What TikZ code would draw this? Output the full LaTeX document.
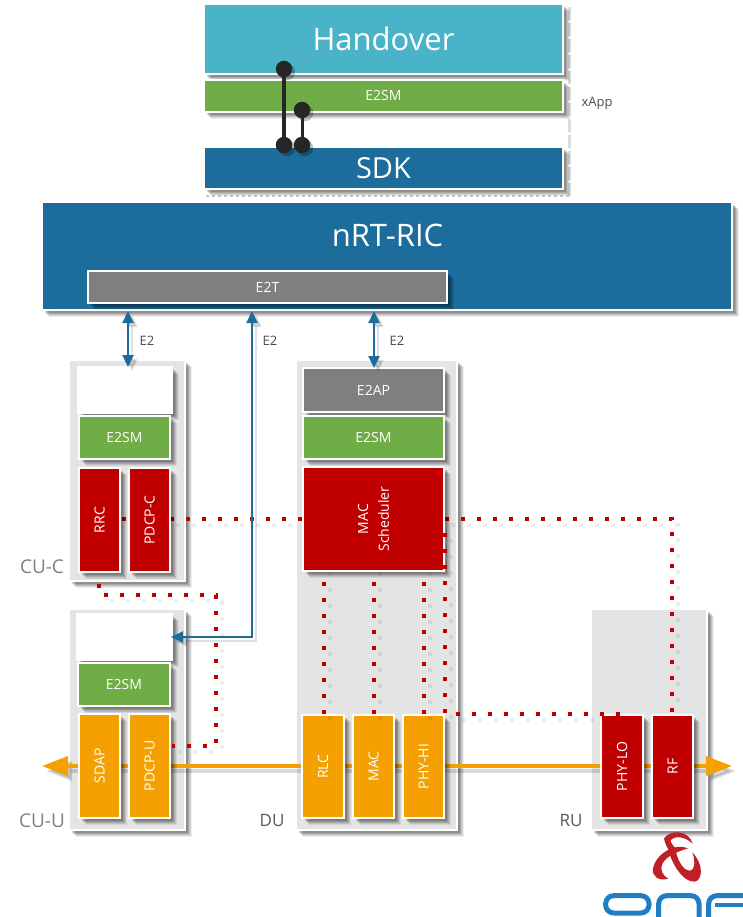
\documentclass[tikz,border=0pt]{standalone}
\usepackage{fontspec}
\setmainfont{Open Sans}
\usetikzlibrary{arrows.meta,shadows,calc}
\definecolor{cHand}{HTML}{4BB3C8}
\definecolor{cGreen}{HTML}{70AD47}
\definecolor{cBlue}{HTML}{1C6C9C}
\definecolor{cGray}{HTML}{7F7F7F}
\definecolor{cRed}{HTML}{C00000}
\definecolor{cOrange}{HTML}{F4A000}
\definecolor{cCont}{HTML}{E4E4E4}
\definecolor{cOnf}{HTML}{1F7FC4}
\definecolor{cPin}{HTML}{262626}
\definecolor{cKnot}{HTML}{BE2026}
\tikzset{
  softshadow/.style={
    drop shadow={shadow xshift=7pt,shadow yshift=-7pt,fill=black,opacity=.07},
    drop shadow={shadow xshift=6pt,shadow yshift=-6pt,fill=black,opacity=.09},
    drop shadow={shadow xshift=5pt,shadow yshift=-5pt,fill=black,opacity=.11},
    drop shadow={shadow xshift=4pt,shadow yshift=-4pt,fill=black,opacity=.13},
    drop shadow={shadow xshift=3pt,shadow yshift=-3pt,fill=black,opacity=.15}},
  boxbase/.style={rectangle,draw=white,line width=2pt,inner sep=0pt,outer sep=0pt,text=white,font=\fontsize{14}{16}\selectfont,align=center,softshadow},
  green box/.style={boxbase,fill=cGreen},
  gray box/.style={boxbase,fill=cGray},
  white box/.style={boxbase,fill=white},
  red box/.style={boxbase,fill=cRed},
  orange box/.style={boxbase,fill=cOrange},
  container/.style={boxbase,fill=cCont},
  hand box/.style={boxbase,fill=cHand,font=\fontsize{31}{35}\selectfont},
  blue box/.style={boxbase,fill=cBlue,font=\fontsize{29}{33}\selectfont},
  pin/.style={circle,fill=cPin,inner sep=0pt,minimum size=16.5pt,outer sep=0pt,
    drop shadow={shadow xshift=3pt,shadow yshift=-3pt,fill=black,opacity=.25}},
  pinline/.style={draw=cPin,line width=3.5pt},
  redots/.style={draw=cRed,line width=3.6pt,dash pattern=on 4pt off 12pt,line join=miter,
    preaction={draw=black,line width=3.6pt,dash pattern=on 4pt off 12pt,opacity=.07,transform canvas={shift={(6pt,-6pt)}}}},
  e2line/.style={draw=cBlue,line width=2.2pt,line join=miter,{Triangle[length=12pt,width=11pt]}-{Triangle[length=12pt,width=11pt]},
    preaction={draw=black,line width=2.2pt,opacity=.12,transform canvas={shift={(4pt,-4pt)}}}},
  busline/.style={draw=cOrange,line width=3.5pt,{Triangle[length=26pt,width=19pt]}-{Triangle[length=26pt,width=19pt]},
    preaction={draw=black,line width=3.5pt,opacity=.15,transform canvas={shift={(4pt,-5pt)}}}},
  small label/.style={text=black!70,font=\fontsize{13}{15}\selectfont,inner sep=0pt},
  unit label/.style={text=black!65,font=\fontsize{17}{20}\selectfont,inner sep=0pt},
  light label/.style={text=black!50,font=\fontsize{19}{22}\selectfont,inner sep=0pt},
  onfline/.style={draw=cOnf,line width=5pt,line cap=butt,line join=round},
  knot/.style={fill=cKnot}
}
\newcommand{\bx}[7]{\node[#6,minimum width={(#4-#2)*1pt},minimum height={(#5-#3)*1pt}] (#1) at ({(#2+#4)/2},{(#3+#5)/2}) {#7};}
\begin{document}
\begin{tikzpicture}[x=1pt,y=-1pt]
\useasboundingbox (0,0) rectangle (743,917);
\clip (0,0) rectangle (743,917);
% xApp frame
\coordinate (fa) at (569,4);
\coordinate (fb) at (569,196);
\coordinate (fc) at (205,196);
\draw[black!14,line width=3pt] (fa) -- (fb);
\draw[white,line width=3pt,dash pattern=on 3pt off 13pt] (fa) -- (fb);
\draw[black!22,line width=2pt,dash pattern=on 3pt off 3pt] (fb) -- (fc);
% xApp boxes
\bx{hand}{204}{4}{563}{74}{hand box}{Handover}
\bx{xsm}{204}{80}{563}{112}{green box}{E2SM}
\bx{sdk}{204}{147}{563}{189}{blue box}{\raisebox{-2pt}{SDK}}
\node[small label] (xapp) at (597,103) {xApp};
% RIC
\bx{ric}{42}{202}{732}{310}{blue box}{}
\node[text=white,font=\fontsize{31}{35}\selectfont,inner sep=0pt] (rictxt) at (387.5,235) {nRT-RIC};
\bx{e2t}{88}{271}{447}{303}{gray box}{E2T}
% containers
\bx{cuc}{69}{360}{185}{581}{container}{}
\bx{cuu}{69}{609}{185}{830}{container}{}
\bx{du}{296}{360}{457}{830}{container}{}
\bx{ru}{591}{609}{707}{830}{container}{}
% bus
\coordinate (busl) at (42,766);
\coordinate (busr) at (732,766);
\draw[busline] (busl) -- (busr);
% dotted links hidden behind boxes
\coordinate (da) at (122,519);
\coordinate (db) at (305,519);
\coordinate (dc) at (445,519);
\coordinate (dd) at (672,519);
\coordinate (de) at (672,714);
\draw[redots] (da) -- (db);
\draw[redots] (dc) -- (dd) -- (de);
% CU-C boxes
\bx{cucw}{78}{367}{172}{413}{white box}{}
\bx{cucsm}{79}{416}{170}{459}{green box}{E2SM}
\bx{rrc}{79}{468}{120}{572}{red box}{\rotatebox{90}{RRC}}
\bx{pdcpc}{129}{468}{170}{572}{red box}{\rotatebox{90}{PDCP-C}}
% CU-U boxes
\bx{cuuw}{77}{614}{172}{660}{white box}{}
\bx{cuusm}{78}{663}{170}{706}{green box}{E2SM}
\bx{sdap}{79}{714}{120}{818}{orange box}{\rotatebox{90}{SDAP}}
\bx{pdcpu}{129}{714}{170}{818}{orange box}{\rotatebox{90}{PDCP-U}}
% DU boxes
\bx{e2ap}{303}{368}{444}{412}{gray box}{E2AP}
\bx{dusm}{303}{416}{444}{459}{green box}{E2SM}
\bx{sched}{303}{467}{444}{571}{red box}{\rotatebox{90}{\shortstack{MAC\\[7pt]Scheduler}}}
\bx{rlc}{302}{715}{344}{818}{orange box}{\rotatebox{90}{RLC}}
\bx{mac}{353}{715}{394}{818}{orange box}{\rotatebox{90}{MAC}}
\bx{phyhi}{403}{715}{444}{818}{orange box}{\rotatebox{90}{PHY-HI}}
% RU boxes
\bx{phylo}{601}{715}{643}{818}{red box}{\rotatebox{90}{PHY-LO}}
\bx{rf}{652}{715}{693}{818}{red box}{\rotatebox{90}{RF}}
% remaining dotted links
\coordinate (v1) at (324,566);
\coordinate (v2) at (374,566);
\coordinate (v3) at (424,566);
\draw[redots] (v1) -- (v1 |- rlc.north);
\draw[redots] (v2) -- (v2 |- mac.north);
\draw[redots] (v3) -- (v3 |- phyhi.north);
\coordinate (ha) at (445,533);
\coordinate (hb) at (445,714);
\coordinate (hc) at (622,714);
\draw[redots] (ha) -- (hb) -- (hc);
\coordinate (ca) at (99,584);
\coordinate (cb) at (99,595);
\coordinate (cc) at (216,595);
\coordinate (cd) at (216,746);
\coordinate (ce) at (172,746);
\draw[redots] (ca) -- (cb) -- (cc) -- (cd) -- (ce);
% E2 connectors
\coordinate (e1) at (128,311);
\coordinate (e1b) at (128,367);
\coordinate (e2a) at (252,311);
\coordinate (e2b) at (252,637);
\coordinate (e2c) at (171,637);
\coordinate (e3) at (374,311);
\coordinate (e3b) at (374,368);
\draw[e2line] (e1) -- (e1b);
\draw[e2line] (e2a) -- (e2b) -- (e2c);
\draw[e2line] (e3) -- (e3b);
\node[small label] (l1) at (147,341) {E2};
\node[small label] (l2) at (270,341) {E2};
\node[small label] (l3) at (397,341) {E2};
% xApp pins
\node[pin] (p1) at (284,69) {};
\node[pin] (p2) at (284,145) {};
\node[pin] (p3) at (302,110) {};
\node[pin] (p4) at (302,145) {};
\draw[pinline] (p1) -- (p2);
\draw[pinline,line width=3pt] (p3) -- (p4);
% unit labels
\node[light label] (lcuc) at (42,567) {CU-C};
\node[light label] (lcuu) at (42,821) {CU-U};
\node[unit label] (ldu) at (272,821) {DU};
\node[unit label] (lru) at (571,821) {RU};
% ONF logo
\begin{scope}[shift={(593,825)},scale=1/3]
  \fill[knot] (213,40) .. controls (232,12) and (288,16) .. (299,56) .. controls (275,34) and (246,30) .. (232,47) .. controls (235,55) and (240,62) .. (246,68) -- (226,74) .. controls (220,62) and (215,52) .. (213,40) -- cycle;
  \fill[knot] (285,70) .. controls (245,52) and (188,88) .. (180,130) .. controls (176,152) and (195,170) .. (226,161) .. controls (207,150) and (200,135) .. (209,115) .. controls (220,94) and (252,80) .. (285,70) -- cycle;
  \fill[knot] (226,74) .. controls (235,112) and (268,172) .. (305,170) .. controls (328,166) and (334,120) .. (298,82) .. controls (310,115) and (303,142) .. (285,136) .. controls (265,130) and (252,100) .. (246,68) -- cycle;
  \draw[onfline,rounded corners=8pt] (38,212) rectangle (168,264);
  \draw[onfline,rounded corners=8pt] (197,290) -- (197,212) -- (318,212) -- (318,290);
  \draw[onfline,rounded corners=8pt] (347,290) -- (347,212) -- (470,212);
  \draw[onfline,line width=3.6pt] (365,240) -- (470,240);
\end{scope}
\end{tikzpicture}
\end{document}
